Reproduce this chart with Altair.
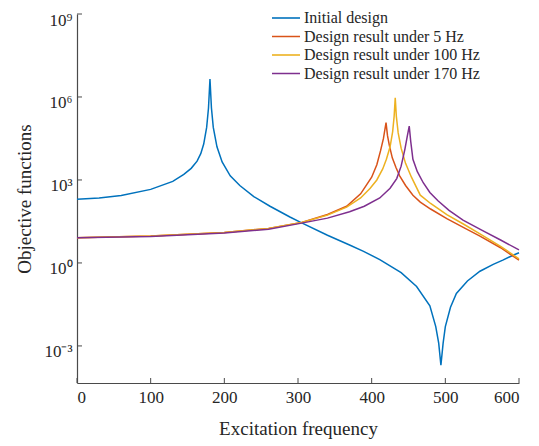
import altair as alt
import pandas as pd

# ---- data (exponents are log10 of the objective) ----
series_names = ["Initial design", "Design result under 5 Hz",
                "Design result under 100 Hz", "Design result under 170 Hz"]
series_colors = ["#0072BD", "#D95319", "#EDB120", "#7E2F8E"]

blue_f = [0, 30, 60, 100, 130, 145, 155, 163, 168, 172, 176, 178.5, 180.5, 182.5, 185, 190, 197,
          208, 221, 240, 262, 289, 305, 340, 370, 389, 411, 440, 461, 479, 487, 491, 494, 497,
          500, 507, 515, 530, 547, 565, 578, 592, 600]
blue_e = [2.30, 2.35, 2.44, 2.66, 2.95, 3.2, 3.42, 3.68, 3.95, 4.3, 4.9, 5.6, 6.65, 5.6, 4.9, 4.2, 3.65,
          3.15, 2.8, 2.4, 2.05, 1.66, 1.45, 1.0, 0.65, 0.42, 0.12, -0.35, -0.85, -1.55, -2.3, -2.9, -3.7, -2.9,
          -2.3, -1.6, -1.1, -0.65, -0.3, -0.05, 0.1, 0.28, 0.37]

red_f = [0, 100, 200, 260, 305, 340, 366, 385, 400, 407, 412, 416, 419.5, 421.5, 424, 428, 433, 438,
         446, 456, 466, 480, 502, 525, 547, 575, 600]
red_e = [0.91, 0.97, 1.1, 1.25, 1.46, 1.75, 2.05, 2.5, 3.1, 3.55, 4.05, 4.5, 5.07, 4.6, 4.25, 3.8, 3.45, 3.15,
         2.8, 2.45, 2.2, 1.95, 1.6, 1.28, 0.97, 0.55, 0.1]

yel_f = [0, 100, 200, 260, 305, 340, 366, 385, 398, 407, 415, 420, 425, 428.5, 430.5, 432, 433.5, 436,
         440, 446, 454, 466, 480, 502, 525, 547, 575, 600]
yel_e = [0.91, 0.97, 1.1, 1.25, 1.46, 1.73, 2.02, 2.35, 2.7, 3.0, 3.4, 3.75, 4.2, 4.75, 5.3, 5.97, 5.3, 4.7,
         4.15, 3.6, 3.1, 2.45, 2.15, 1.75, 1.4, 1.05, 0.6, 0.15]

pur_f = [0, 100, 200, 260, 305, 340, 370, 390, 411, 425, 434, 440, 445, 448.5, 451, 453, 456,
         462, 470, 479, 490, 505, 524, 550, 575, 600]
pur_e = [0.91, 0.96, 1.08, 1.22, 1.44, 1.62, 1.85, 2.05, 2.35, 2.7, 3.05, 3.5, 4.1, 4.6, 4.95, 4.4, 3.75,
         3.3, 2.9, 2.55, 2.25, 1.9, 1.55, 1.18, 0.83, 0.47]

x_ticks = [0, 100, 200, 300, 400, 500, 600]
y_ticks = [1e-3, 1e0, 1e3, 1e6, 1e9]

rows = []
for name, fs, es in zip(series_names, [blue_f, red_f, yel_f, pur_f], [blue_e, red_e, yel_e, pur_e]):
    for i, (f, e) in enumerate(zip(fs, es)):
        rows.append({"series": name, "freq": f, "obj": 10 ** e, "order": i})
df = pd.DataFrame(rows)

W, H = 442, 369
FONT = "Liberation Serif"
TXT = "#262626"
AX = "#4a4a4a"

xscale = alt.Scale(domain=[0, 600], nice=False)
yscale = alt.Scale(type="log", domain=[10 ** -4.34, 1e9], nice=False)

ylabel = ("datum.value < 0.01 ? '10⁻³' : datum.value < 10 ? '10⁰' : "
          "datum.value < 1e4 ? '10³' : datum.value < 1e7 ? '10⁶' : '10⁹'")

xaxis = alt.Axis(title="Excitation frequency", values=x_ticks, ticks=False, grid=False,
                 labelPadding=6, titlePadding=14, format="d")
yaxis = alt.Axis(title="Objective functions", values=y_ticks, ticks=False, grid=False,
                 labelExpr=ylabel, labelPadding=5, titlePadding=9, labelOffset=6)

lines = alt.Chart(df).mark_line(strokeWidth=1.5).encode(
    x=alt.X("freq:Q", scale=xscale, axis=xaxis),
    y=alt.Y("obj:Q", scale=yscale, axis=yaxis),
    color=alt.Color("series:N", scale=alt.Scale(domain=series_names, range=series_colors),
                    sort=series_names,
                    legend=alt.Legend(title=None, orient="none", legendX=194, legendY=-3,
                                      symbolType="stroke", symbolSize=784, symbolStrokeWidth=1.6,
                                      labelFont=FONT, labelFontSize=16, labelColor=TXT,
                                      clipHeight=14, rowPadding=2.5, labelOffset=3, padding=0,
                                      labelLimit=400)),
    order="order:Q",
)

xt = alt.Chart(pd.DataFrame({"v": x_ticks})).mark_rule(color=AX, strokeWidth=1).encode(
    x=alt.X("v:Q", scale=xscale, axis=xaxis),
    y=alt.value(H), y2=alt.value(H - 5),
)
yt = alt.Chart(pd.DataFrame({"v": y_ticks})).mark_rule(color=AX, strokeWidth=1).encode(
    y=alt.Y("v:Q", scale=yscale, axis=yaxis),
    x=alt.value(0), x2=alt.value(5),
)

chart = alt.layer(lines, xt, yt).properties(
    width=W, height=H,
    autosize="none",
    padding={"left": 69, "top": 6, "right": 12, "bottom": 62},
).configure_view(stroke=None).configure_axis(
    domainColor=AX, domainWidth=1.2,
    labelFont=FONT, labelFontSize=17, labelColor=TXT,
    titleFont=FONT, titleFontSize=19, titleColor=TXT, titleFontWeight="normal",
)

chart.save("out.html", embed_options={"renderer": "svg", "actions": False})
